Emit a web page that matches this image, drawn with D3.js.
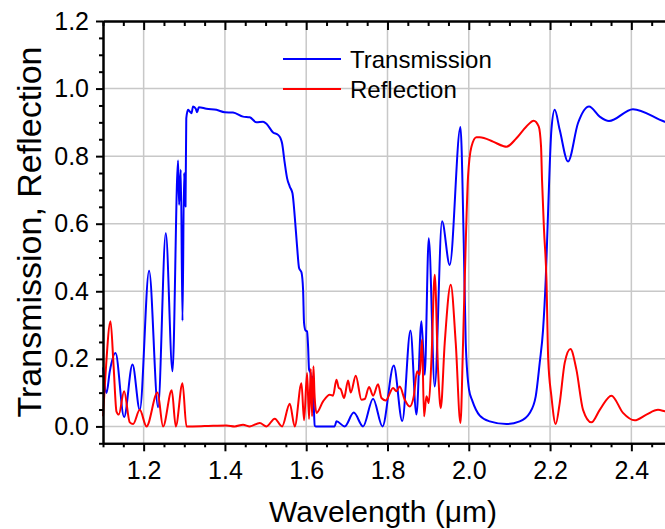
<!DOCTYPE html>
<html>
<head>
<meta charset="utf-8">
<script src="https://cdn.jsdelivr.net/npm/d3@7"></script>
<style>
  body { margin: 0; background: #fff; }
  svg { display: block; font-family: "Liberation Sans", Arial, sans-serif; }
</style>
</head>
<body>
<svg id="chart" width="665" height="529"></svg>
<script>
// wavelength (um), value
const transmission = [
  [1.1, 0.175], [1.1086, 0.099], [1.1167, 0.163], [1.1308, 0.217], [1.1519, 0.028],
  [1.1726, 0.183], [1.1905, 0.049], [1.2134, 0.461], [1.2355, 0.057], [1.2545, 0.572],
  [1.271, 0.163], [1.2847, 0.787], [1.2872, 0.656], [1.2914, 0.76], [1.2956, 0.313],
  [1.2995, 0.75], [1.303, 0.651], [1.3049, 0.912], [1.3093, 0.937], [1.3135, 0.932],
  [1.3177, 0.927], [1.3216, 0.947], [1.3283, 0.94], [1.3315, 0.93], [1.3357, 0.945],
  [1.3546, 0.94], [1.3792, 0.937], [1.3996, 0.93], [1.42, 0.929], [1.4446, 0.917],
  [1.4611, 0.915], [1.4776, 0.9], [1.4938, 0.902], [1.5022, 0.896], [1.5185, 0.87],
  [1.5307, 0.863], [1.5367, 0.853], [1.5406, 0.838], [1.5472, 0.779], [1.5529, 0.735],
  [1.5595, 0.71], [1.5662, 0.69], [1.5718, 0.621], [1.5775, 0.533], [1.5824, 0.469],
  [1.5883, 0.456], [1.5923, 0.404], [1.5947, 0.306], [1.5982, 0.284], [1.6021, 0.281],
  [1.6046, 0.237], [1.607, 0.168], [1.6105, 0.158], [1.6129, 0.109], [1.6154, 0.148],
  [1.6186, 0.059], [1.621, 0.002], [1.6235, 0], [1.67, 0], [1.6744, 0.015],
  [1.6948, 0], [1.717, 0.041], [1.7399, 0], [1.7645, 0.082], [1.7876, 0],
  [1.8154, 0.18], [1.8363, 0.016], [1.8565, 0.284], [1.8712, 0.035], [1.8835, 0.311],
  [1.8916, 0.153], [1.9015, 0.557], [1.9162, 0.118], [1.9342, 0.607], [1.9531, 0.478],
  [1.9795, 0.886], [1.9876, 0.543], [1.9925, 0.247], [2.0006, 0.109], [2.009, 0.075],
  [2.027, 0.032], [2.0515, 0.015], [2.0926, 0.007], [2.1253, 0.015], [2.1499, 0.04],
  [2.1647, 0.089], [2.1745, 0.188], [2.1827, 0.285], [2.1893, 0.434], [2.195, 0.631],
  [2.2033, 0.878], [2.2114, 0.937], [2.2237, 0.878], [2.2442, 0.784], [2.2688, 0.898],
  [2.2958, 0.947], [2.3221, 0.917], [2.345, 0.904], [2.404, 0.939], [2.482, 0.902],
  [2.5, 0.896]
];

const reflection = [
  [1.1, 0.03], [1.106, 0.15], [1.1185, 0.311], [1.126, 0.18], [1.1332, 0.044],
  [1.1389, 0.035], [1.1519, 0.104], [1.1659, 0.012], [1.174, 0.007], [1.1905, 0.049],
  [1.207, 0], [1.2341, 0.1], [1.2478, 0], [1.2692, 0.107], [1.2791, 0],
  [1.2956, 0.128], [1.3054, 0], [1.35, 0.001], [1.4038, 0.003], [1.4242, 0],
  [1.4446, 0.005], [1.4611, 0], [1.4857, 0.01], [1.5022, 0], [1.5226, 0.023],
  [1.5406, 0], [1.5595, 0.067], [1.5718, 0], [1.5883, 0.128], [1.5947, 0.018],
  [1.6021, 0.158], [1.607, 0.022], [1.6112, 0.17], [1.6144, 0.03], [1.6178, 0.178],
  [1.6203, 0.099], [1.6252, 0.04], [1.6415, 0.074], [1.6579, 0.094], [1.6661, 0.091],
  [1.6744, 0.138], [1.6801, 0.114], [1.685, 0.11], [1.6931, 0.084], [1.703, 0.136],
  [1.7096, 0.1], [1.7219, 0.15], [1.7359, 0.079], [1.744, 0.081], [1.7546, 0.117],
  [1.7645, 0.091], [1.7768, 0.125], [1.7851, 0.084], [1.7957, 0.077], [1.8137, 0.114],
  [1.822, 0.104], [1.8301, 0.118], [1.8424, 0.079], [1.8547, 0.059], [1.8646, 0.089],
  [1.8727, 0.163], [1.8793, 0.153], [1.885, 0.257], [1.8899, 0.03], [1.8958, 0.089],
  [1.9015, 0.069], [1.9081, 0.197], [1.9162, 0.449], [1.9244, 0.168], [1.931, 0.054],
  [1.9408, 0.247], [1.9556, 0.419], [1.9679, 0.247], [1.9795, 0.01], [1.9859, 0.247],
  [1.9925, 0.543], [1.9982, 0.74], [2.0065, 0.828], [2.0188, 0.856], [2.0269, 0.856],
  [2.0597, 0.843], [2.0843, 0.83], [2.0926, 0.828], [2.1172, 0.853], [2.1418, 0.888],
  [2.1597, 0.905], [2.172, 0.888], [2.1778, 0.828], [2.1802, 0.73], [2.1851, 0.582],
  [2.1911, 0.434], [2.1954, 0.2], [2.2033, 0.089], [2.2139, 0.007], [2.2237, 0.069],
  [2.236, 0.188], [2.2501, 0.229], [2.2648, 0.168], [2.2811, 0.049], [2.3017, 0.012],
  [2.3222, 0.049], [2.3509, 0.091], [2.3795, 0.04], [2.4082, 0.018], [2.437, 0.035],
  [2.4656, 0.049], [2.482, 0.045], [2.5, 0.04]
];

const xTicks = [1.2, 1.4, 1.6, 1.8, 2.0, 2.2, 2.4];
const yTicks = [0.0, 0.2, 0.4, 0.6, 0.8, 1.0, 1.2];
const seriesNames = ["Transmission", "Reflection"];
const seriesColors = ["#0000ff", "#ff0000"];

const svg = d3.select("#chart");
const x = d3.scaleLinear().domain([1.1, 2.5]).range([103, 672]);
const y = d3.scaleLinear().domain([-0.05, 1.2]).range([443.3, 21]);

const xMinor = d3.range(1.1, 2.5001, 0.05).filter(
  (d) => !xTicks.some((t) => Math.abs(t - d) < 1e-6)
);
const yMinor = d3.range(-0.05, 1.2001, 0.05).filter(
  (d) => !yTicks.some((t) => Math.abs(t - d) < 1e-6)
);

// grid
svg
  .append("g")
  .selectAll("line")
  .data(xTicks)
  .enter()
  .append("line")
  .attr("x1", (d) => x(d))
  .attr("x2", (d) => x(d))
  .attr("y1", y(1.2))
  .attr("y2", y(-0.05))
  .attr("stroke", "#c8c8c8")
  .attr("stroke-width", 1.5);
svg
  .append("g")
  .selectAll("line")
  .data(yTicks.filter((d) => d < 1.2))
  .enter()
  .append("line")
  .attr("x1", x(1.1))
  .attr("x2", x(2.5))
  .attr("y1", (d) => y(d))
  .attr("y2", (d) => y(d))
  .attr("stroke", "#c8c8c8")
  .attr("stroke-width", 1.5);

// curves
const line = d3
  .line()
  .x((d) => x(d[0]))
  .y((d) => y(d[1]))
  .curve(d3.curveMonotoneX);

[transmission, reflection].forEach((series, i) => {
  svg
    .append("path")
    .datum(series)
    .attr("d", line)
    .attr("fill", "none")
    .attr("stroke", seriesColors[i])
    .attr("stroke-width", 2)
    .attr("stroke-linejoin", "round");
});

// axes
const styleAxis = (g) => {
  g.selectAll("path, line").attr("stroke", "#000").attr("stroke-width", 2);
  g.selectAll("text")
    .attr("fill", "#000")
    .style("font-size", "25px")
    .style("font-family", '"Liberation Sans", Arial, sans-serif');
};

svg
  .append("g")
  .attr("transform", `translate(0,${y(-0.05)})`)
  .call(d3.axisBottom(x).tickValues(xTicks).tickSize(8).tickSizeOuter(0).tickPadding(10).tickFormat(d3.format(".1f")))
  .call(styleAxis);
svg
  .append("g")
  .attr("transform", `translate(0,${y(-0.05)})`)
  .call(d3.axisBottom(x).tickValues(xMinor).tickSize(4).tickSizeOuter(0).tickFormat(""))
  .call(styleAxis);

svg
  .append("g")
  .attr("transform", `translate(0,${y(1.2)})`)
  .call(d3.axisTop(x).tickValues(xTicks).tickSize(-9).tickSizeOuter(0).tickFormat(""))
  .call(styleAxis);
svg
  .append("g")
  .attr("transform", `translate(0,${y(1.2)})`)
  .call(d3.axisTop(x).tickValues(xMinor).tickSize(-5).tickSizeOuter(0).tickFormat(""))
  .call(styleAxis);

svg
  .append("g")
  .attr("transform", `translate(${x(1.1)},0)`)
  .call(d3.axisLeft(y).tickValues(yTicks).tickSize(7).tickSizeOuter(0).tickPadding(7).tickFormat(d3.format(".1f")))
  .call(styleAxis);
svg
  .append("g")
  .attr("transform", `translate(${x(1.1)},0)`)
  .call(d3.axisLeft(y).tickValues(yMinor).tickSize(4).tickSizeOuter(0).tickFormat(""))
  .call(styleAxis);

// titles
svg
  .append("text")
  .attr("x", 383)
  .attr("y", 522)
  .attr("text-anchor", "middle")
  .style("font-size", "30px")
  .text("Wavelength (\u03bcm)");
svg
  .append("text")
  .attr("transform", `translate(41,${232}) rotate(-90)`)
  .attr("text-anchor", "middle")
  .style("font-size", "34px")
  .text("Transmission, Reflection");

// legend
const legend = svg
  .append("g")
  .selectAll("g")
  .data(seriesNames)
  .enter()
  .append("g")
  .attr("transform", (d, i) => `translate(283, ${59 + i * 30})`);
legend
  .append("line")
  .attr("x1", 0)
  .attr("x2", 58)
  .attr("stroke", (d, i) => seriesColors[i])
  .attr("stroke-width", 2);
legend
  .append("text")
  .attr("x", 67)
  .attr("y", 9)
  .style("font-size", "24px")
  .text((d) => d);
</script>
</body>
</html>
